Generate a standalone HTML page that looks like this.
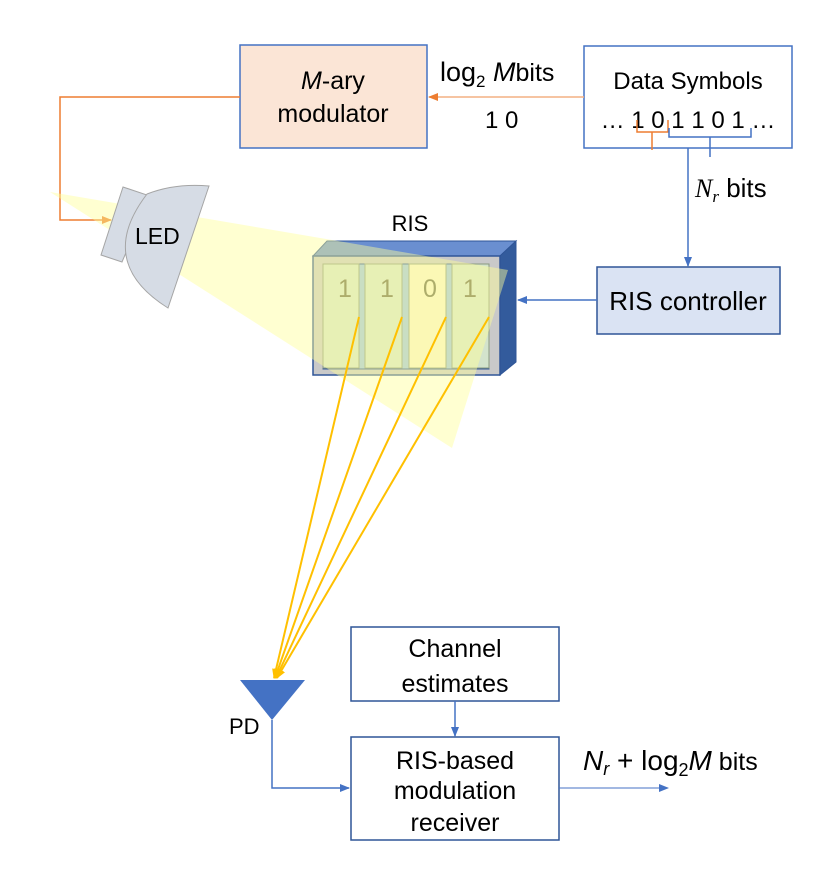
<!DOCTYPE html>
<html><head><meta charset="utf-8"><style>
body{margin:0;background:#fff}
svg text{font-family:"Liberation Sans",sans-serif}
</style></head><body>
<svg width="825" height="868" viewBox="0 0 825 868" xmlns="http://www.w3.org/2000/svg">
<defs>
<marker id="ao" markerWidth="10" markerHeight="10" refX="9" refY="5" orient="auto" markerUnits="userSpaceOnUse"><path d="M0,1 L10,5 L0,9 z" fill="#ed7d31"/></marker>
<marker id="ab" markerWidth="10" markerHeight="10" refX="9" refY="5" orient="auto" markerUnits="userSpaceOnUse"><path d="M0,1 L10,5 L0,9 z" fill="#4472c4"/></marker>
<marker id="ay" markerWidth="10" markerHeight="10" refX="9" refY="5" orient="auto" markerUnits="userSpaceOnUse"><path d="M0,1 L10,5 L0,9 z" fill="#ffc000"/></marker>
</defs>
<!-- M-ary modulator -->
<rect x="240" y="45" width="187" height="103" fill="#fbe5d6" stroke="#4472c4" stroke-width="1.5"/>
<text x="333" y="89" font-size="25" text-anchor="middle"><tspan font-style="italic">M</tspan>-ary</text>
<text x="333" y="122" font-size="25" text-anchor="middle">modulator</text>
<!-- Data Symbols -->
<rect x="584" y="46" width="208" height="102" fill="#fff" stroke="#4472c4" stroke-width="1.5"/>
<text x="688" y="89" font-size="24" text-anchor="middle">Data Symbols</text>
<text x="688" y="128" font-size="24" text-anchor="middle">… 1 0 1 1 0 1 …</text>
<path d="M637,120 v12 h31 v-12 M652,132 v18" fill="none" stroke="#ed7d31" stroke-width="1.5"/>
<path d="M669,128 v9 h82 v-9 M710,137 v20" fill="none" stroke="#4472c4" stroke-width="1.5"/>
<!-- orange arrows -->
<line x1="584" y1="97" x2="429" y2="97" stroke="#f4b183" stroke-width="1.5" marker-end="url(#ao)"/>
<text x="440" y="81" font-size="27" font-family="Liberation Serif">log<tspan font-size="17" dy="6">2</tspan><tspan dy="-6" font-style="italic"> M</tspan><tspan font-family="Liberation Sans" font-size="25">bits</tspan></text>
<text x="485" y="128" font-size="24">1 0</text>
<path d="M240,97 H60 V220 H111" fill="none" stroke="#ed7d31" stroke-width="1.5" marker-end="url(#ao)"/>
<!-- blue Nr -->
<line x1="688" y1="148" x2="688" y2="266" stroke="#4472c4" stroke-width="1.5" marker-end="url(#ab)"/>
<text x="695" y="197" font-size="26"><tspan font-family="Liberation Serif" font-style="italic">N<tspan font-size="17" dy="5">r</tspan></tspan><tspan dy="-5"> bits</tspan></text>
<!-- RIS controller -->
<rect x="597" y="267" width="183" height="67" fill="#dae3f3" stroke="#2f5597" stroke-width="1.5"/>
<text x="688" y="310" font-size="26" text-anchor="middle">RIS controller</text>
<line x1="597" y1="300" x2="518" y2="300" stroke="#4472c4" stroke-width="1.5" marker-end="url(#ab)"/>
<!-- RIS -->
<text x="410" y="231" font-size="22" text-anchor="middle">RIS</text>
<polygon points="313,256 327,241 516,241 500,256" fill="#6a8fd0" stroke="#2f5597" stroke-width="1"/>
<polygon points="500,256 516,241 516,362 500,375" fill="#335b9c" stroke="#2f5597" stroke-width="1"/>
<rect x="313" y="256" width="187" height="119" fill="#c9c9c9" stroke="#2f5597" stroke-width="1.5"/>
<rect x="323" y="264" width="166" height="105" fill="#9dc3e6" stroke="#2f5597" stroke-width="1"/>
<rect x="323" y="264" width="36" height="104" fill="#d3e3cc" stroke="#8a9a80"/>
<rect x="365" y="264" width="37" height="104" fill="#d3e3cc" stroke="#8a9a80"/>
<rect x="409" y="264" width="37" height="104" fill="#f7f3cc" stroke="#8a9a80"/>
<rect x="452" y="264" width="37" height="104" fill="#d3e3cc" stroke="#8a9a80"/>
<g font-size="25" fill="#6b6a45" text-anchor="middle">
<text x="345" y="297">1</text><text x="387" y="297">1</text><text x="430" y="297">0</text><text x="470" y="297">1</text></g>
<!-- beam -->
<polygon points="50,192 508,270 452,448" fill="#ffff99" fill-opacity="0.45"/>
<!-- LED -->
<polygon points="123,187 150,196 122,262 101,255" fill="#d6dce5" stroke="#a5a5a5" stroke-width="1"/>
<path d="M147,194 Q175,183 209,186 L168,308 Q95,262 147,194 z" fill="#d6dce5" stroke="#a5a5a5" stroke-width="1"/>
<text x="135" y="244" font-size="23">LED</text>
<!-- rays -->
<g stroke="#ffc000" stroke-width="2" marker-end="url(#ay)">
<line x1="359" y1="317" x2="274" y2="678"/>
<line x1="402" y1="317" x2="275" y2="678"/>
<line x1="446" y1="317" x2="276" y2="678"/>
<line x1="489" y1="317" x2="277" y2="678"/>
</g>
<!-- PD -->
<polygon points="240,680 305,680 272,720" fill="#4472c4"/>
<text x="229" y="734" font-size="22">PD</text>
<path d="M272,720 V788 H349" fill="none" stroke="#4472c4" stroke-width="1.5" marker-end="url(#ab)"/>
<!-- Channel estimates -->
<rect x="351" y="627" width="208" height="74" fill="#fff" stroke="#2f5597" stroke-width="1.5"/>
<text x="455" y="657" font-size="25" text-anchor="middle">Channel</text>
<text x="455" y="692" font-size="25" text-anchor="middle">estimates</text>
<line x1="455" y1="701" x2="455" y2="736" stroke="#4472c4" stroke-width="1.5" marker-end="url(#ab)"/>
<!-- Receiver -->
<rect x="351" y="737" width="208" height="103" fill="#fff" stroke="#2f5597" stroke-width="1.5"/>
<text x="455" y="769" font-size="25" text-anchor="middle">RIS-based</text>
<text x="455" y="799" font-size="25" text-anchor="middle">modulation</text>
<text x="455" y="831" font-size="25" text-anchor="middle">receiver</text>
<line x1="559" y1="788" x2="668" y2="788" stroke="#4472c4" stroke-width="1" marker-end="url(#ab)"/>
<text x="583" y="770" font-size="28" font-family="Liberation Serif"><tspan font-style="italic">N</tspan><tspan font-size="18" dy="5" font-style="italic">r</tspan><tspan dy="-5"> + log</tspan><tspan font-size="18" dy="6">2</tspan><tspan dy="-6" font-style="italic">M</tspan><tspan font-family="Liberation Sans" font-size="25"> bits</tspan></text>
</svg>
</body></html>
